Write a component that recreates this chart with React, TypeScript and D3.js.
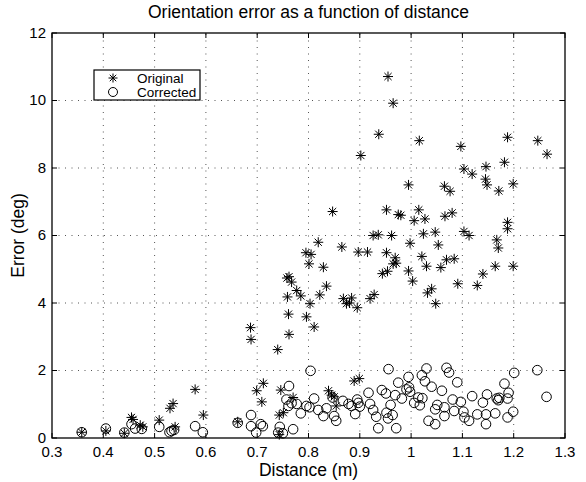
import React from "react";
import * as d3 from "d3";

const xTicks = [0.3, 0.4, 0.5, 0.6, 0.7, 0.8, 0.9, 1.0, 1.1, 1.2, 1.3];
const yTicks = [0, 2, 4, 6, 8, 10, 12];
const xTickLabels = ["0.3", "0.4", "0.5", "0.6", "0.7", "0.8", "0.9", "1", "1.1", "1.2", "1.3"];

const originalDistance = [
  0.955, 0.965, 0.937, 0.902, 1.016, 0.847, 0.952,
  1.097, 1.188, 1.247, 1.265, 1.182, 1.103, 1.146, 1.119, 1.145, 1.148, 1.199, 1.171, 0.995, 1.065, 1.076,
  0.975, 0.980, 1.015, 1.006, 1.027, 1.066, 1.080, 1.024, 1.047, 1.103, 1.113, 0.962, 1.188, 1.188,
  0.998, 1.053, 1.167, 1.170, 0.969, 0.965, 1.021, 1.069, 1.084, 1.030, 1.058, 0.995, 1.164, 1.199,
  1.140, 1.003, 1.091, 1.129, 1.040, 1.032, 1.048,
  0.819, 0.795, 0.805, 0.801, 0.829, 0.865, 0.897, 0.915, 0.926, 0.936, 0.952, 0.971,
  0.944, 0.954, 0.758, 0.762, 0.767, 0.777, 0.785, 0.759, 0.835, 0.822, 0.803, 0.868, 0.874, 0.884,
  0.880, 0.895, 0.920, 0.928, 0.761, 0.796, 0.811, 0.687,
  0.762, 0.740, 0.712, 0.709, 0.746, 0.770, 0.743, 0.751, 0.839, 0.845, 0.850, 0.854, 0.889, 0.899,
  0.358, 0.405, 0.441, 0.455, 0.458, 0.472, 0.477, 0.509, 0.530, 0.536, 0.540, 0.579, 0.595, 0.662,
  0.688, 0.699, 0.743,
];
const originalError = [
  10.71, 9.92, 9.0, 8.37, 8.81, 6.71, 6.76,
  8.64, 8.91, 8.81, 8.41, 8.17, 7.97, 8.04, 7.82, 7.67, 7.5, 7.53, 7.32, 7.5, 7.46, 7.31,
  6.62, 6.6, 6.76, 6.44, 6.49, 6.57, 6.67, 6.05, 6.1, 6.12, 6.0, 6.0, 6.39, 6.2,
  5.77, 5.72, 5.87, 5.63, 5.34, 5.16, 5.38, 5.28, 5.31, 5.09, 5.05, 4.95, 5.09, 5.09,
  4.86, 4.65, 4.57, 4.52, 4.42, 4.3, 3.98,
  5.8, 5.49, 5.44, 5.16, 5.06, 5.66, 5.51, 5.51, 6.0, 6.02, 5.49, 5.18,
  4.87, 4.94, 4.74, 4.78, 4.62, 4.37, 4.21, 4.18, 4.5, 4.24, 3.98, 4.13, 3.98, 4.15,
  4.0, 3.86, 4.13, 4.25, 3.67, 3.59, 3.29, 3.27,
  3.07, 2.62, 1.62, 1.07, 1.42, 1.2, 0.68, 0.75, 1.4, 1.27, 1.22, 0.95, 1.69, 1.76,
  0.17, 0.21, 0.14, 0.61, 0.55, 0.38, 0.33, 0.53, 0.88, 1.02, 0.33, 1.44, 0.68, 0.48,
  2.92, 1.4, 0.1,
];

const correctedDistance = [
  0.358, 0.405, 0.441, 0.455, 0.462, 0.475, 0.509, 0.529, 0.533, 0.538, 0.579, 0.594, 0.662, 0.688, 0.688,
  0.698, 0.707, 0.711,
  0.804, 0.762, 0.757, 0.761, 0.767, 0.777, 0.785, 0.796, 0.802, 0.811, 0.819, 0.829, 0.835, 0.85, 0.854,
  0.847, 0.867, 0.878, 0.884, 0.891, 0.895, 0.897, 0.9, 0.917, 0.92, 0.926, 0.932, 0.936, 0.943, 0.951,
  0.956, 0.952, 0.96, 0.964, 0.955, 0.969, 0.971, 0.975, 0.982, 0.991, 0.996, 0.995, 0.998, 1.006,
  0.741, 0.75, 0.77, 0.744,
  1.014, 1.022, 1.017, 1.03, 1.021, 1.027, 1.04, 1.034, 1.047, 1.051, 1.047, 1.06, 1.065, 1.065, 1.069,
  1.074, 1.081, 1.084, 1.09, 1.097, 1.102, 1.104, 1.113, 1.119, 1.129, 1.14, 1.146, 1.146, 1.148, 1.164,
  1.167, 1.17, 1.172, 1.182, 1.19, 1.188, 1.188, 1.199, 1.201, 1.246, 1.264,
];
const correctedError = [
  0.17, 0.28, 0.16, 0.41, 0.28, 0.27, 0.33, 0.17, 0.21, 0.24, 0.35, 0.17, 0.45, 0.68, 0.35,
  0.16, 0.41, 0.35,
  1.99, 1.54, 1.14, 0.95, 1.03, 1.01, 0.73, 0.95, 0.91, 1.17, 0.83, 0.65, 0.88, 0.65, 0.51,
  1.2, 1.1, 1.01, 0.95, 0.71, 1.14, 1.04, 0.93, 1.34, 1.01, 0.83, 0.63, 0.29, 1.42, 1.32,
  2.04, 0.75, 0.98, 0.68, 0.58, 1.27, 0.29, 1.64, 1.17, 1.44, 1.5, 1.81, 1.37, 1.04,
  0.16, 0.14, 0.26, 0.33,
  1.2, 1.18, 0.97, 2.06, 1.86, 1.68, 1.52, 0.51, 0.41, 0.98, 0.85, 1.4, 0.91, 0.65, 2.08,
  1.94, 1.14, 0.8, 1.65, 1.07, 0.78, 0.61, 0.51, 1.24, 0.7, 1.05, 0.7, 0.41, 1.29, 0.73,
  1.17, 1.12, 1.19, 1.61, 1.34, 1.17, 0.61, 0.78, 1.93, 2.01, 1.22,
];

const title = "Orientation error as a function of distance";
const xLabel = "Distance (m)";
const yLabel = "Error (deg)";
const legendLabels = ["Original", "Corrected"];

const W = 586;
const H = 482;
const left = 52;
const right = 565;
const top = 33;
const bottom = 438;
const FONT = "'Liberation Sans', Arial, Helvetica, sans-serif";

function starPath(cx: number, cy: number, r: number) {
  const d = r * 0.72;
  return `M${cx - r},${cy}L${cx + r},${cy}M${cx},${cy - r}L${cx},${cy + r}` +
    `M${cx - d},${cy - d}L${cx + d},${cy + d}M${cx - d},${cy + d}L${cx + d},${cy - d}`;
}

export default function App() {
  const x = d3.scaleLinear().domain([0.3, 1.3]).range([left, right]);
  const y = d3.scaleLinear().domain([0, 12]).range([bottom, top]);
  const tickLen = 5;

  return (
    <svg width={W} height={H} style={{ position: "absolute", left: 0, top: 0, background: "#fff" }}
      fontFamily={FONT}>
      <rect x={0} y={0} width={W} height={H} fill="#fff" />
      <g stroke="#555" strokeWidth={1} strokeDasharray="1,5.5">
        {xTicks.slice(1, -1).map((t) => (
          <line key={"gx" + t} x1={x(t)} x2={x(t)} y1={bottom} y2={top} />
        ))}
        {yTicks.slice(1, -1).map((t) => (
          <line key={"gy" + t} x1={left} x2={right} y1={y(t)} y2={y(t)} />
        ))}
      </g>
      <g stroke="#000" strokeWidth={1}>
        {xTicks.map((t) => (
          <g key={"tx" + t}>
            <line x1={x(t)} x2={x(t)} y1={bottom} y2={bottom - tickLen} />
            <line x1={x(t)} x2={x(t)} y1={top} y2={top + tickLen} />
          </g>
        ))}
        {yTicks.map((t) => (
          <g key={"ty" + t}>
            <line x1={left} x2={left + tickLen} y1={y(t)} y2={y(t)} />
            <line x1={right} x2={right - tickLen} y1={y(t)} y2={y(t)} />
          </g>
        ))}
      </g>
      <g stroke="#000" strokeWidth={1} fill="none">
        {originalDistance.map((dv, i) => (
          <path key={"o" + i} d={starPath(x(dv), y(originalError[i]), 5)} />
        ))}
        {correctedDistance.map((dv, i) => (
          <circle key={"c" + i} cx={x(dv)} cy={y(correctedError[i])} r={4.8} />
        ))}
      </g>
      <rect x={left} y={top} width={right - left} height={bottom - top} fill="none" stroke="#000" strokeWidth={1.3} />
      <g fontSize={15} fill="#000">
        {xTicks.map((t, i) => (
          <text key={"lx" + t} x={x(t)} y={bottom + 19} textAnchor="middle">{xTickLabels[i]}</text>
        ))}
        {yTicks.map((t) => (
          <text key={"ly" + t} x={left - 6} y={y(t) + 4.5} textAnchor="end">{t}</text>
        ))}
      </g>
      <text x={(left + right) / 2} y={476} textAnchor="middle" fontSize={17.5}>{xLabel}</text>
      <text transform={`translate(24,${(top + bottom) / 2}) rotate(-90)`} textAnchor="middle" fontSize={17.5}>{yLabel}</text>
      <text x={(left + right) / 2} y={18} textAnchor="middle" fontSize={17.5}>{title}</text>
      <rect x={94} y={70} width={106} height={30} fill="#fff" stroke="#000" strokeWidth={1.2} />
      <path d={starPath(113, 78, 4.5)} stroke="#000" strokeWidth={1} fill="none" />
      <circle cx={113} cy={92} r={4.5} stroke="#000" strokeWidth={1} fill="none" />
      <text x={137} y={83} fontSize={13.5}>{legendLabels[0]}</text>
      <text x={137} y={97} fontSize={13.5}>{legendLabels[1]}</text>
    </svg>
  );
}
